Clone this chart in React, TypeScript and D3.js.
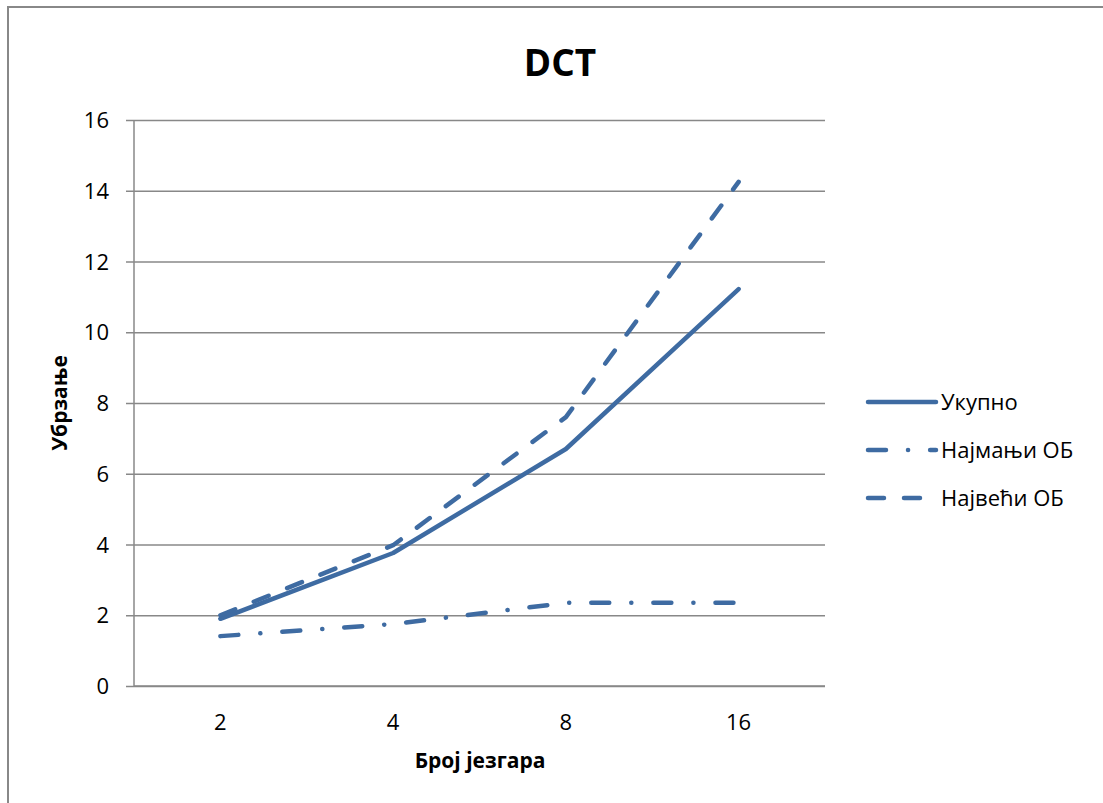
import React, { useEffect, useRef } from "react";
import * as d3 from "d3";

const WIDTH = 1103;
const HEIGHT = 803;
const PLOT = { LEFT: 134, RIGHT: 825, TOP: 120, BOTTOM: 686 };
const COLOR = "#3e6ba2";
const GRID = "#888888";
const FONT = "'Open Sans', sans-serif";

const categories = ["2", "4", "8", "16"];
const ukupno = [1.9, 3.76, 6.7, 11.22];
const najmanji = [1.41, 1.75, 2.35, 2.35];
const najveci = [2.0, 3.98, 7.6, 14.25];
const yTicks = [0, 2, 4, 6, 8, 10, 12, 14, 16];

const seriesList = [
  { name: "Укупно", values: ukupno, dash: null },
  { name: "Најмањи ОБ", values: najmanji, dash: "18 22 0.1 22" },
  { name: "Највећи ОБ", values: najveci, dash: "16 20" },
];

const App = () => {
  const ref = useRef<SVGSVGElement | null>(null);

  useEffect(() => {
    const svg = d3.select(ref.current);
    svg.selectAll("*").remove();

    const x = d3
      .scaleBand()
      .domain(categories)
      .range([PLOT.LEFT, PLOT.RIGHT]);
    const y = d3.scaleLinear().domain([0, 16]).range([PLOT.BOTTOM, PLOT.TOP]);

    svg.append("rect").attr("width", WIDTH).attr("height", HEIGHT).attr("fill", "#fff");

    // outer border of the chart area (runs off the right/bottom edge)
    svg
      .append("rect")
      .attr("x", 8)
      .attr("y", 7)
      .attr("width", WIDTH + 20)
      .attr("height", HEIGHT + 20)
      .attr("fill", "none")
      .attr("stroke", GRID)
      .attr("stroke-width", 2);

    // gridlines + y ticks
    const yAxis = d3
      .axisLeft(y)
      .tickValues(yTicks)
      .tickSize(PLOT.RIGHT - PLOT.LEFT + 8)
      .tickSizeOuter(0)
      .tickPadding(0);
    const gy = svg.append("g").attr("transform", `translate(${PLOT.RIGHT},0)`).call(yAxis);
    gy.select(".domain").remove();
    gy.selectAll(".tick line").attr("stroke", GRID).attr("stroke-width", 1.5);
    gy.selectAll(".tick text").remove();

    svg
      .append("g")
      .selectAll("text")
      .data(yTicks)
      .enter()
      .append("text")
      .attr("x", 109)
      .attr("y", (d) => y(d) + 8)
      .attr("text-anchor", "end")
      .attr("font-family", FONT)
      .attr("font-size", 22)
      .attr("fill", "#000")
      .text((d) => d);

    // axes lines
    svg
      .append("line")
      .attr("x1", PLOT.LEFT)
      .attr("x2", PLOT.LEFT)
      .attr("y1", PLOT.TOP)
      .attr("y2", PLOT.BOTTOM)
      .attr("stroke", GRID)
      .attr("stroke-width", 1.5);
    svg
      .append("line")
      .attr("x1", PLOT.LEFT)
      .attr("x2", PLOT.RIGHT)
      .attr("y1", PLOT.BOTTOM)
      .attr("y2", PLOT.BOTTOM)
      .attr("stroke", GRID)
      .attr("stroke-width", 1.5);

    svg
      .append("g")
      .selectAll("text")
      .data(categories)
      .enter()
      .append("text")
      .attr("x", (d) => x(d)! + x.bandwidth() / 2)
      .attr("y", 730)
      .attr("text-anchor", "middle")
      .attr("font-family", FONT)
      .attr("font-size", 22)
      .text((d) => d);

    // series
    const line = d3
      .line<number>()
      .x((d, i) => x(categories[i])! + x.bandwidth() / 2)
      .y((d) => y(d));

    seriesList.forEach((s) => {
      const p = svg
        .append("path")
        .attr("d", line(s.values))
        .attr("fill", "none")
        .attr("stroke", COLOR)
        .attr("stroke-width", 4.5)
        .attr("stroke-linecap", "round")
        .attr("stroke-linejoin", "round");
      if (s.dash) p.attr("stroke-dasharray", s.dash);
    });

    // legend
    const legend = svg
      .append("g")
      .selectAll("g")
      .data(seriesList)
      .enter()
      .append("g")
      .attr("transform", (d, i) => `translate(0, ${402 + i * 48})`);
    legend
      .append("line")
      .attr("x1", 868)
      .attr("x2", 936)
      .attr("stroke", COLOR)
      .attr("stroke-width", 4.5)
      .attr("stroke-linecap", "round")
      .attr("stroke-dasharray", (d) => d.dash);
    legend
      .append("text")
      .attr("x", 941)
      .attr("y", 8)
      .attr("font-family", FONT)
      .attr("font-size", 22)
      .text((d) => d.name);

    // titles
    svg
      .append("text")
      .attr("x", 560)
      .attr("y", 76)
      .attr("text-anchor", "middle")
      .attr("font-family", FONT)
      .attr("font-weight", "bold")
      .attr("font-size", 37)
      .text("DCT");

    svg
      .append("text")
      .attr("x", 480)
      .attr("y", 768)
      .attr("text-anchor", "middle")
      .attr("font-family", FONT)
      .attr("font-weight", "bold")
      .attr("font-size", 21)
      .text("Број језгара");

    svg
      .append("text")
      .attr("transform", "translate(67, 403) rotate(-90)")
      .attr("text-anchor", "middle")
      .attr("font-family", FONT)
      .attr("font-weight", "bold")
      .attr("font-size", 21)
      .text("Убрзање");
  }, []);

  return (
    <svg
      ref={ref}
      width={WIDTH}
      height={HEIGHT}
      style={{ position: "absolute", left: 0, top: 0 }}
    />
  );
};

export default App;
